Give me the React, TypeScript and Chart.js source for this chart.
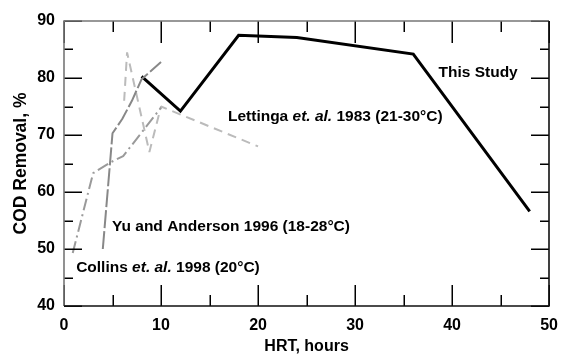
import { useEffect, useRef } from "react";
import { Chart, registerables } from "chart.js";

Chart.register(...registerables);

// ---- data ----
const thisStudyHRT = [8, 12, 18, 24, 36, 48];
const thisStudyCOD = [80.3, 74.2, 87.5, 87.1, 84.2, 56.6];

const lettingaHRT = [6.2, 6.5, 8.8, 10, 20];
const lettingaCOD = [76, 84.5, 67, 75, 68];

const yuHRT = [4, 5, 6, 7, 8, 10];
const yuCOD = [50, 70.3, 72.8, 76, 79.8, 82.8];

const collinsHRT = [0.9, 3, 4.8, 6.1, 10];
const collinsCOD = [49.3, 63.3, 65.2, 66.3, 74.8];

const xTitle = "HRT, hours";
const yTitle = "COD Removal, %";

type Part = { text: string; italic?: boolean };
const annotationTexts: Part[][] = [
  [{ text: "This Study" }],
  [{ text: "Lettinga " }, { text: "et. al.", italic: true }, { text: " 1983 (21-30°C)" }],
  [{ text: "Yu and Anderson 1996 (18-28°C)" }],
  [{ text: "Collins " }, { text: "et. al.", italic: true }, { text: " 1998 (20°C)" }],
];
// anchor (left edge, vertical middle) in data units
const annotationAnchorX = [38.6, 16.9, 4.95, 1.25];
const annotationAnchorY = [80.9, 73.2, 53.9, 46.7];

const FONT = '"Liberation Sans", Arial, Helvetica, sans-serif';

const toPts = (xs: number[], ys: number[]) => xs.map((x, i) => ({ x, y: ys[i] }));

const framePlugin = {
  id: "frameMarks",
  afterDatasetsDraw(chart: any) {
    const ctx = chart.ctx;
    const area = chart.chartArea;
    const L = Math.round(area.left);
    const R = Math.round(area.right);
    const T = Math.round(area.top);
    const B = Math.round(area.bottom);
    const sx = chart.scales.x;
    const sy = chart.scales.y;
    ctx.save();
    ctx.setLineDash([]);
    ctx.lineCap = "butt";
    ctx.lineWidth = 1.5;
    ctx.strokeStyle = "#000";
    ctx.beginPath();
    // x tick marks every 5 h (longer every 10 h), pointing inward from bottom and top
    for (let k = 0; sx.min + k * 5 <= sx.max + 1e-9; k++) {
      const v = sx.min + k * 5;
      const major = k % 2 === 0;
      const px = Math.round(sx.getPixelForValue(v)) + 0.25;
      ctx.moveTo(px, B);
      ctx.lineTo(px, B - (major ? 21 : 11));
      ctx.moveTo(px, T);
      ctx.lineTo(px, T + (major ? 22 : 11));
    }
    // y tick marks every 5 % (longer every 10 %), pointing inward from left and right
    for (let k = 0; sy.min + k * 5 <= sy.max + 1e-9; k++) {
      const v = sy.min + k * 5;
      const major = k % 2 === 0;
      const py = Math.round(sy.getPixelForValue(v)) + 0.25;
      ctx.moveTo(L, py);
      ctx.lineTo(L + (major ? 18 : 9), py);
      ctx.moveTo(R, py);
      ctx.lineTo(R - (major ? 18 : 9), py);
    }
    ctx.stroke();

    // frame
    ctx.lineWidth = 1.6;
    ctx.strokeStyle = "#777";
    ctx.beginPath();
    ctx.moveTo(L, B);
    ctx.lineTo(L, T);
    ctx.lineTo(R, T);
    ctx.stroke();
    ctx.strokeStyle = "#111";
    ctx.beginPath();
    ctx.moveTo(R, T);
    ctx.lineTo(R, B);
    ctx.lineTo(L, B);
    ctx.stroke();

    // annotations
    ctx.fillStyle = "#000";
    ctx.textBaseline = "middle";
    ctx.textAlign = "left";
    annotationTexts.forEach((parts, i) => {
      let px = sx.getPixelForValue(annotationAnchorX[i]);
      const py = sy.getPixelForValue(annotationAnchorY[i]);
      parts.forEach((p) => {
        ctx.font = `${p.italic ? "italic " : ""}bold 15.5px ${FONT}`;
        ctx.fillText(p.text, px, py);
        px += ctx.measureText(p.text).width;
      });
    });
    ctx.restore();
  },
};

export default function App() {
  const ref = useRef<HTMLCanvasElement | null>(null);
  useEffect(() => {
    if (!ref.current) return;
    const tickFont = { family: FONT, size: 16, weight: "bold" as const };
    const chart = new Chart(ref.current, {
      type: "scatter",
      data: {
        datasets: [
          {
            label: "Collins et. al. 1998",
            data: toPts(collinsHRT, collinsCOD),
            showLine: true,
            borderColor: "#9a9a9a",
            borderWidth: 2,
            borderDash: [12, 4, 2, 4],
            borderJoinStyle: "bevel",
            pointRadius: 0,
            tension: 0,
          },
          {
            label: "Yu and Anderson 1996",
            data: toPts(yuHRT, yuCOD),
            showLine: true,
            borderColor: "#888",
            borderWidth: 2,
            borderDash: [18, 3],
            borderJoinStyle: "bevel",
            pointRadius: 0,
            tension: 0,
          },
          {
            label: "Lettinga et. al. 1983",
            data: toPts(lettingaHRT, lettingaCOD),
            showLine: true,
            borderColor: "#bbb",
            borderWidth: 2,
            borderDash: [9, 6],
            borderJoinStyle: "bevel",
            pointRadius: 0,
            tension: 0,
          },
          {
            label: "This Study",
            data: toPts(thisStudyHRT, thisStudyCOD),
            showLine: true,
            borderColor: "#000",
            borderWidth: 3,
            pointRadius: 0,
            tension: 0,
          },
        ],
      },
      options: {
        animation: false,
        responsive: false,
        devicePixelRatio: 1,
        layout: { padding: { top: 21, right: 13, left: 0, bottom: 0 } },
        plugins: { legend: { display: false }, tooltip: { enabled: false } },
        scales: {
          x: {
            type: "linear",
            min: 0,
            max: 50,
            ticks: { stepSize: 10, font: tickFont, color: "#000", padding: 10, maxRotation: 0 },
            grid: { display: false, drawTicks: false },
            border: { display: false },
            title: { display: true, text: xTitle, font: tickFont, color: "#000", padding: 0 },
            afterFit: (s: any) => {
              s.height = 50;
            },
          },
          y: {
            type: "linear",
            min: 40,
            max: 90,
            ticks: { stepSize: 10, font: tickFont, color: "#000", padding: 9 },
            grid: { display: false, drawTicks: false },
            border: { display: false },
            title: {
              display: true,
              text: yTitle,
              font: { family: FONT, size: 17.5, weight: "bold" },
              color: "#000",
              padding: { top: 11, bottom: 0 },
            },
            afterFit: (s: any) => {
              s.width = 64;
            },
          },
        },
      },
      plugins: [framePlugin],
    });
    return () => chart.destroy();
  }, []);
  return (
    <div style={{ position: "fixed", left: 0, top: 0, width: 568, height: 356, background: "#fff" }}>
      <canvas ref={ref} width={568} height={356} style={{ display: "block" }} />
    </div>
  );
}
